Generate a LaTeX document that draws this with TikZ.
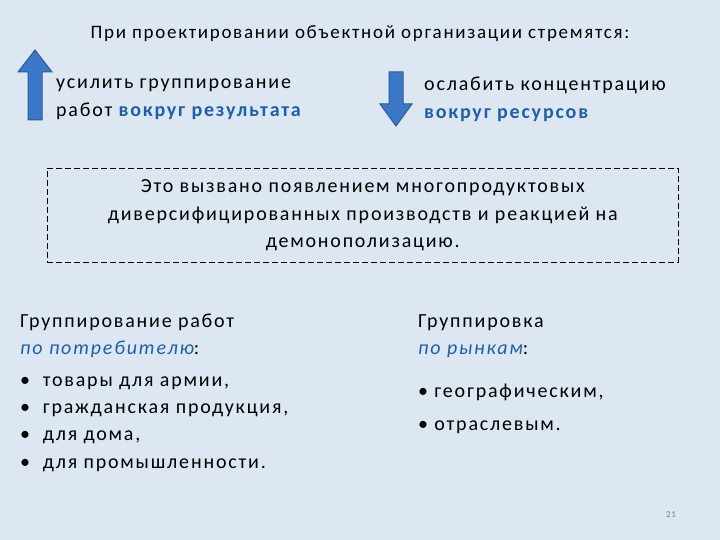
\documentclass[tikz,border=0pt]{standalone}
\usepackage{fontspec}
\setmainfont{Carlito}[LetterSpace=9]
\definecolor{bg}{HTML}{DCE7F2}
\definecolor{hb}{HTML}{1F5FA8}
\definecolor{arr}{HTML}{3B78C8}
\definecolor{arrd}{HTML}{2A5A98}
\begin{document}
\begin{tikzpicture}[x=1pt,y=-1pt,
  txt/.style={anchor=west,align=left,inner sep=0pt,font=\fontsize{20}{28}\selectfont},
  bigarrow/.style={fill=arr,draw=arrd,line width=1pt}]
\fill[bg] (0,0) rectangle (720,540);
\useasboundingbox (0,0) rectangle (720,540);
\node[anchor=center,inner sep=0pt,font=\fontsize{19}{22}\selectfont] (title) at (360,34) {При проектировании объектной организации стремятся:};
\draw[bigarrow] (28,120) -- (28,72) -- (18,72) -- (35,50) -- (52,72) -- (42,72) -- (42,120) -- cycle;
\node (upA) at (35,85) {};
\draw[bigarrow] (389,72) -- (389,104) -- (380,104) -- (396,126) -- (412,104) -- (403,104) -- (403,72) -- cycle;
\node (dnA) at (396,95) {};
\node[txt] (l1) at (56,99) {усилить группирование\\работ {\color{hb}\bfseries вокруг результата}};
\node[txt] (r1) at (424,99) {ослабить концентрацию\\{\color{hb}\bfseries вокруг ресурсов}};
\node[draw,dashed,dash pattern=on 6pt off 3pt,line width=0.6pt,minimum width=631pt,minimum height=94pt,anchor=north west,align=center,inner sep=0pt,font=\fontsize{20}{27.5}\selectfont] (box) at (47,168) {Это вызвано появлением многопродуктовых\\диверсифицированных производств и реакцией на\\демонополизацию.};
\node[txt,font=\fontsize{20}{27}\selectfont] (lh) at (20,336) {Группирование работ\\{\color{hb}\itshape по потребителю}:};
\node[txt,font=\fontsize{20}{27}\selectfont] (rh) at (418,336) {Группировка\\{\color{hb}\itshape по рынкам}:};
\node[txt,font=\fontsize{20}{27.3}\selectfont] (ll) at (20,424) {•\ \ товары для армии,\\•\ \ гражданская продукция,\\•\ \ для дома,\\•\ \ для промышленности.};
\node[txt,font=\fontsize{20}{33}\selectfont] (rl) at (418,409) {•\ географическим,\\•\ отраслевым.};
\node[font=\fontsize{9}{10}\selectfont,color=gray,inner sep=0pt] (pg) at (671,515) {21};
\end{tikzpicture}
\end{document}
